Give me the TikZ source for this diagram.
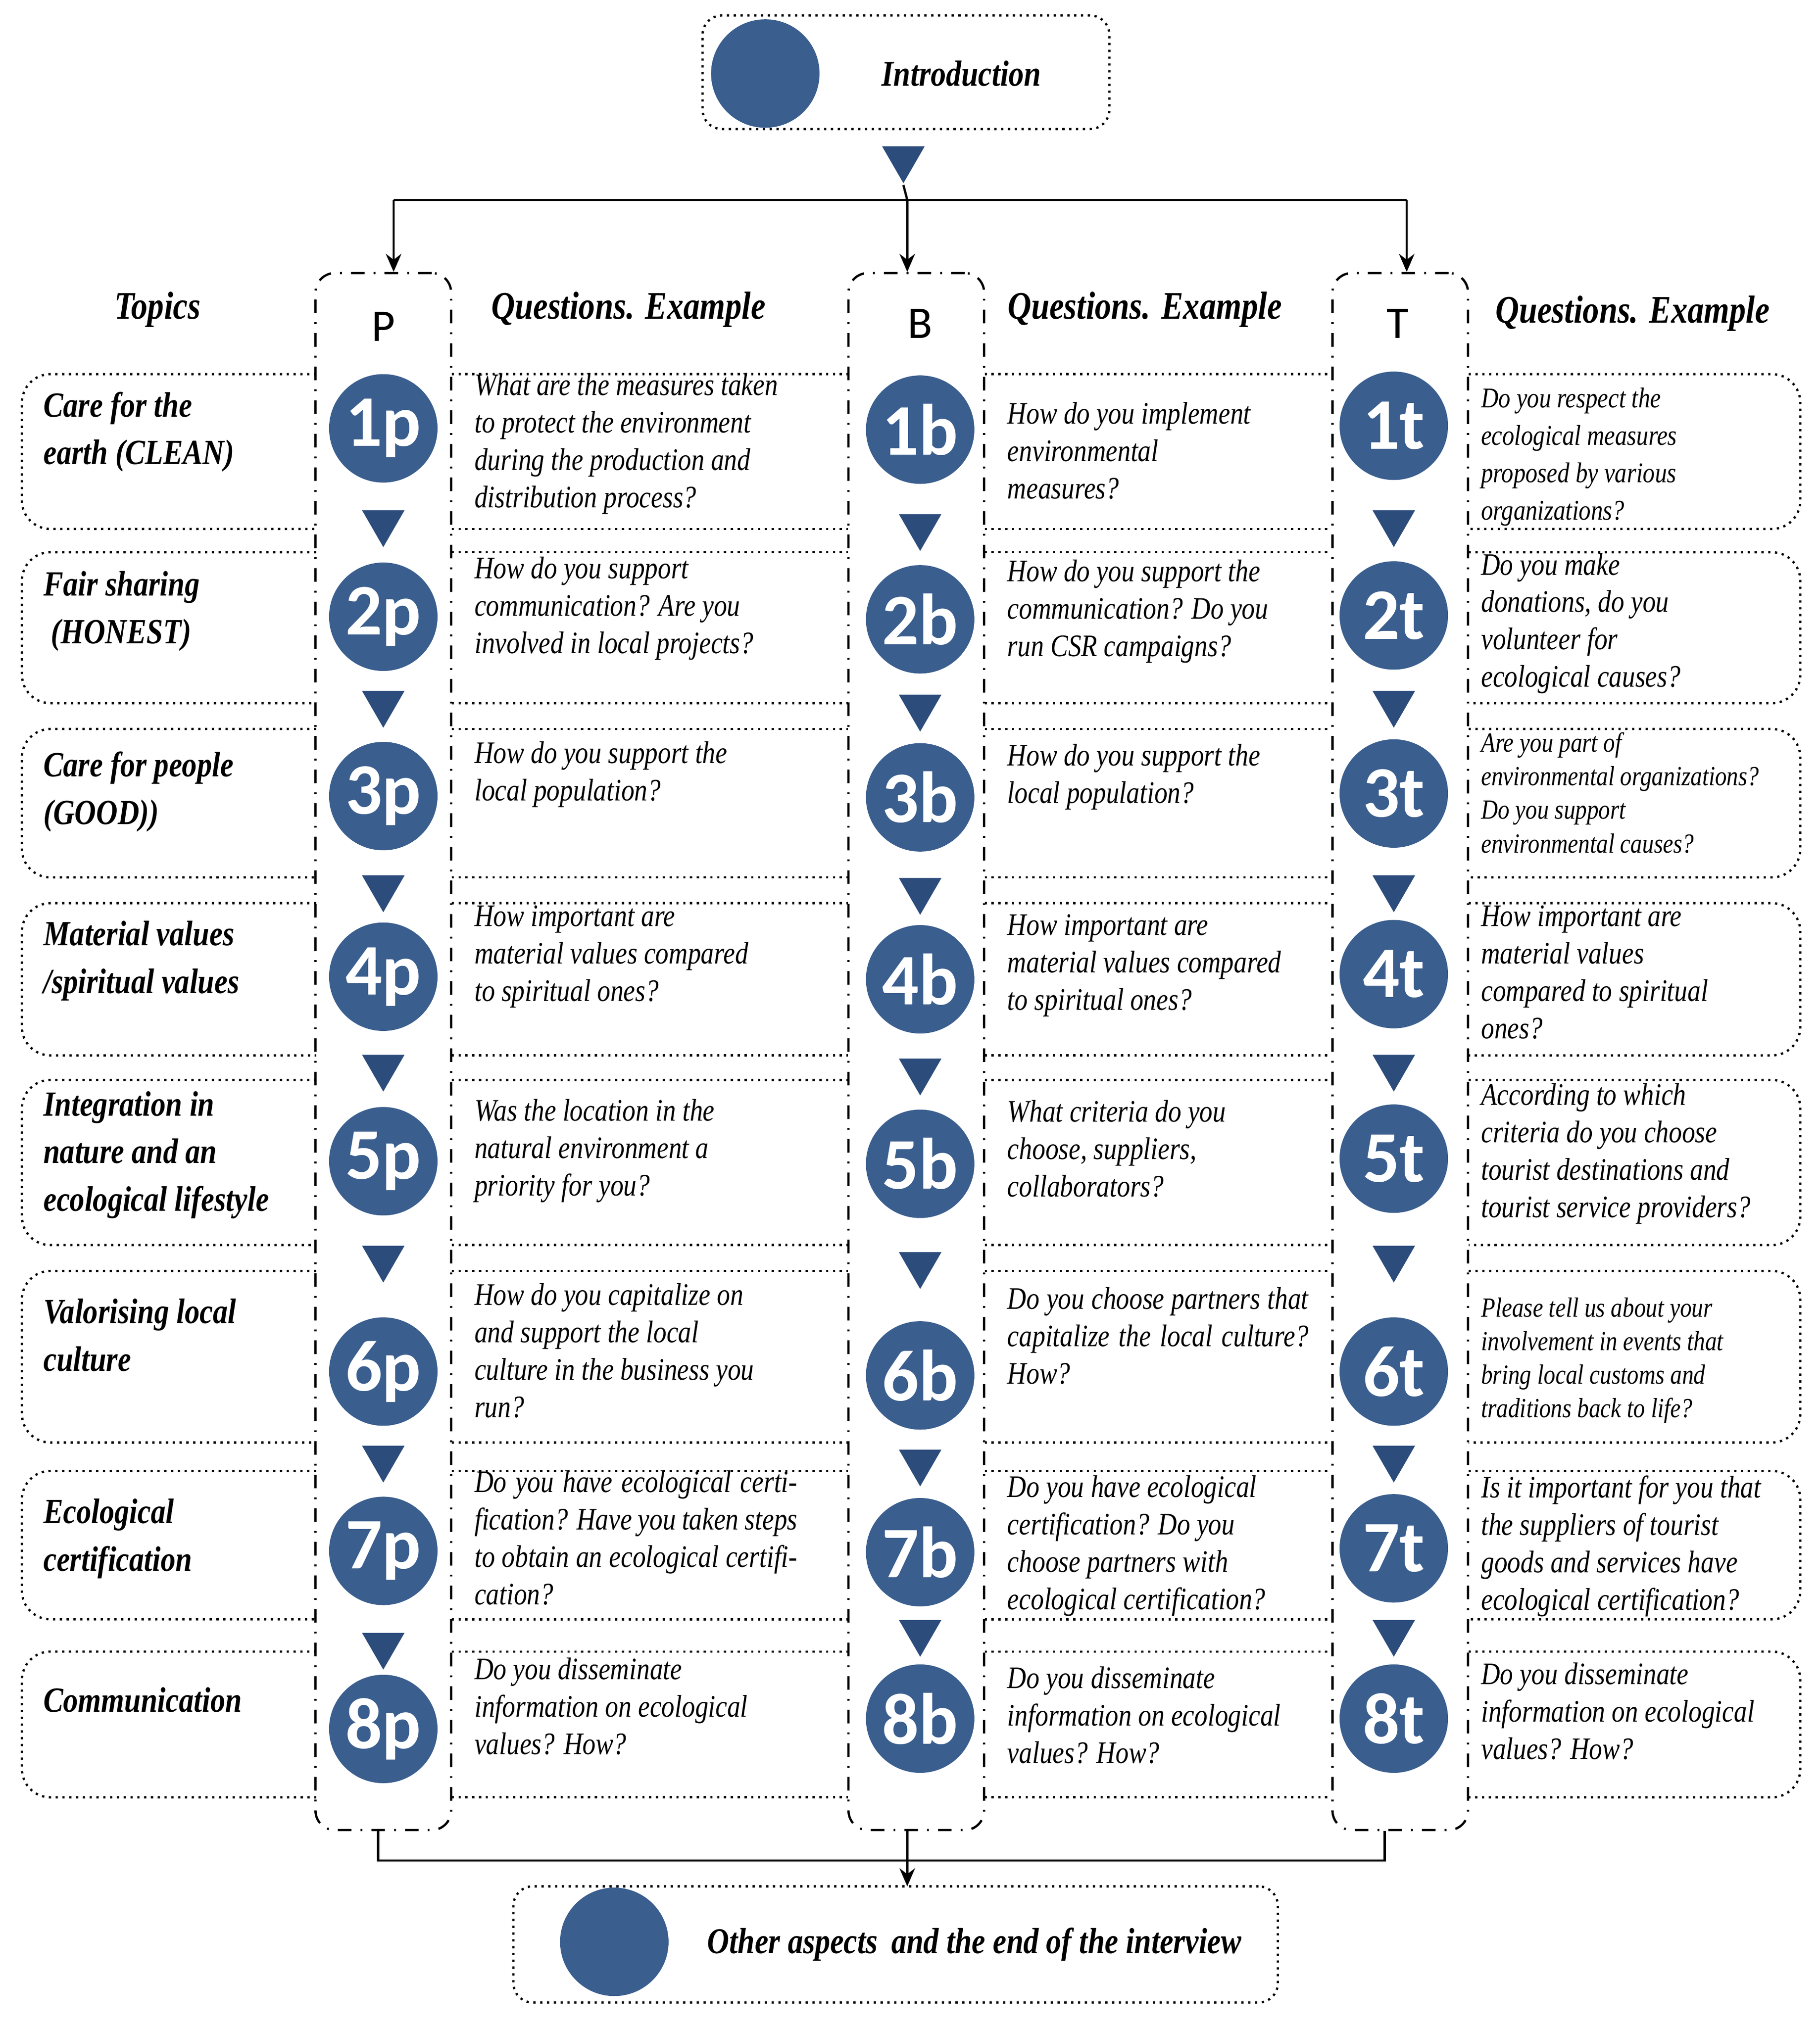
\documentclass[tikz,border=0pt]{standalone}
\usepackage{fontspec}
\setmainfont{Liberation Serif}
\newfontfamily\cserif{Liberation Serif}[FakeStretch=0.84]
\newfontfamily\lsans{Carlito}
\usetikzlibrary{shapes.geometric,arrows.meta}
\definecolor{cblue}{HTML}{3A5E8E}
\definecolor{tblue}{HTML}{2C4C7C}
\begin{document}
\begin{tikzpicture}[x=0.01cm,y=-0.01cm,
  circ/.style={circle,fill=cblue,minimum size=0.84cm,inner sep=0pt,text=white,font=\lsans\bfseries\fontsize{16}{16}\selectfont},
  tri/.style={regular polygon,regular polygon sides=3,shape border rotate=180,fill=tblue,minimum size=0.38cm,inner sep=0pt},
  col/.style={draw,dash dot,rounded corners=0.15cm,minimum width=1.05cm,minimum height=12.06cm,line width=0.5pt},
  topic/.style={anchor=north west,align=left,inner sep=0pt,font=\cserif\bfseries\itshape\fontsize{7.8}{10.5}\selectfont},
  qtext/.style={anchor=north west,align=left,inner sep=0pt,font=\cserif\itshape\fontsize{6.9}{8.25}\selectfont},
  head/.style={font=\cserif\bfseries\itshape\fontsize{8}{9}\selectfont},
  letter/.style={font=\lsans\fontsize{10}{10}\selectfont},
  bx/.style={densely dotted,line width=0.5pt},
  arr/.style={-{Stealth[length=0.14cm,width=0.12cm]},line width=0.5pt}]
\useasboundingbox (0,0) rectangle (1410,1571);
% intro
\node[draw,bx,rounded corners=0.15cm,minimum width=3.15cm,minimum height=0.88cm] (intro) at (702,56) {};
\node[circ] (ci) at (593,57) {};
\node[head] (tintro) at (745,57) {Introduction};
\node[tri] (t0) at (700,123) {};
\coordinate (split) at (703,155);
% columns
\node[col] (colP) at (297,815) {};
\node[col] (colB) at (710,815) {};
\node[col] (colT) at (1085,815) {};
\draw[line width=0.5pt] (t0.south) -- (split);
\coordinate (sl) at (305,155); \coordinate (sr) at (1090,155);
\draw[line width=0.5pt] (sl) -- (sr);
\draw[arr] (sl) -- (sl|-colP.north);
\draw[arr] (split) -- (split|-colB.north);
\draw[arr] (sr) -- (sr|-colT.north);
% headers
\node[head,font=\cserif\bfseries\itshape\fontsize{8.6}{9}\selectfont] (hT) at (122,240) {Topics};
\node[letter] (hP) at (297,253) {P};
\node[head,font=\cserif\bfseries\itshape\fontsize{8.6}{9}\selectfont] (hq1) at (487,240) {Questions. Example};
\node[letter] (hB) at (713,251) {B};
\node[head,font=\cserif\bfseries\itshape\fontsize{8.6}{9}\selectfont] (hq2) at (887,240) {Questions. Example};
\node[letter] (hTT) at (1083,251) {T};
\node[head,font=\cserif\bfseries\itshape\fontsize{8.6}{9}\selectfont] (hq3) at (1265,243) {Questions. Example};
% row boxes
\foreach \a/\b in {290/410,428/545,565/680,700/818,837/965,985/1118,1140/1255,1280/1393}{
  \draw[bx,rounded corners=0.22cm] (245,\a) -- (17,\a) -- (17,\b) -- (245,\b);
  \draw[bx] (350,\a) -- (657,\a) (350,\b) -- (657,\b);
  \draw[bx] (763,\a) -- (1032,\a) (763,\b) -- (1032,\b);
  \draw[bx,rounded corners=0.22cm] (1138,\a) -- (1395,\a) -- (1395,\b) -- (1138,\b);
}
% circles
\foreach \n/\yp/\yb/\yt in {1/332/333/330,2/478/480/477,3/617/618/615,4/757/759/755,5/900/902/898,6/1063/1066/1063,7/1202/1203/1200,8/1340/1332/1332}{
  \node[circ] (c\n p) at (297,\yp) {\n p};
  \node[circ] (c\n b) at (713,\yb) {\n b};
  \node[circ] (c\n t) at (1080,\yt) {\n t};
}
% triangles
\foreach \n/\yp/\yb/\yt in {1/405/408/405,2/545/548/545,3/688/690/688,4/827/830/827,5/975/980/975,6/1130/1133/1130,7/1275/1265/1265}{
  \node[tri] (tp\n) at (297,\yp) {};
  \node[tri] (tb\n) at (713,\yb) {};
  \node[tri] (tt\n) at (1080,\yt) {};
}
% topics
\node[topic] (k1) at (33,303) {Care for the\\earth (CLEAN)};
\node[topic] (k2) at (33,442) {Fair sharing\\\ (HONEST)};
\node[topic] (k3) at (33,582) {Care for people\\(GOOD))};
\node[topic] (k4) at (33,713) {Material values\\/spiritual values};
\node[topic] (k5) at (33,845) {Integration in\\nature and an\\ecological lifestyle};
\node[topic] (k6) at (33,1006) {Valorising local\\culture};
\node[topic] (k7) at (33,1161) {Ecological\\certification};
\node[topic] (k8) at (33,1307) {Communication};
% P questions
\node[qtext] (qp1) at (367,289) {What are the measures taken\\to protect the environment\\during the production and\\distribution process?};
\node[qtext] (qp2) at (367,431) {How do you support\\communication? Are you\\involved in local projects?};
\node[qtext] (qp3) at (367,574) {How do you support the\\local population?};
\node[qtext] (qp4) at (367,701) {How important are\\material values compared\\to spiritual ones?};
\node[qtext] (qp5) at (367,851) {Was the location in the\\natural environment a\\priority for you?};
\node[qtext] (qp6) at (367,994) {How do you capitalize on\\and support the local\\culture in the business you\\run?};
\node[qtext,align=justify,text width=2.5cm] (qp7) at (367,1139) {Do you have ecological certification? Have you taken steps to obtain an ecological certification?};
\node[qtext] (qp8) at (367,1284) {Do you disseminate\\information on ecological\\values? How?};
% B questions
\node[qtext] (qb1) at (780,311) {How do you implement\\environmental\\measures?};
\node[qtext] (qb2) at (780,433) {How do you support the\\communication? Do you\\run CSR campaigns?};
\node[qtext] (qb3) at (780,576) {How do you support the\\local population?};
\node[qtext] (qb4) at (780,708) {How important are\\material values compared\\to spiritual ones?};
\node[qtext] (qb5) at (780,852) {What criteria do you\\choose, suppliers,\\collaborators?};
\node[qtext,align=justify,text width=2.33cm] (qb6) at (780,997) {Do you choose partners that capitalize the local culture? How?};
\node[qtext] (qb7) at (780,1143) {Do you have ecological\\certification? Do you\\choose partners with\\ecological certification?};
\node[qtext] (qb8) at (780,1291) {Do you disseminate\\information on ecological\\values? How?};
% T questions
\node[qtext,font=\cserif\itshape\fontsize{6.3}{8.25}\selectfont] (qt1) at (1147,300) {Do you respect the\\ecological measures\\proposed by various\\organizations?};
\node[qtext] (qt2) at (1147,428) {Do you make\\donations, do you\\volunteer for\\ecological causes?};
\node[qtext,font=\cserif\itshape\fontsize{6.1}{7.4}\selectfont] (qt3) at (1147,567) {Are you part of\\environmental organizations?\\Do you support\\environmental causes?};
\node[qtext] (qt4) at (1147,701) {How important are\\material values\\compared to spiritual\\ones?};
\node[qtext] (qt5) at (1147,839) {According to which\\criteria do you choose\\tourist destinations and\\tourist service providers?};
\node[qtext,font=\cserif\itshape\fontsize{6.1}{7.4}\selectfont] (qt6) at (1147,1005) {Please tell us about your\\involvement in events that\\bring local customs and\\traditions back to life?};
\node[qtext] (qt7) at (1147,1143) {Is it important for you that\\the suppliers of tourist\\goods and services have\\ecological certification?};
\node[qtext] (qt8) at (1147,1288) {Do you disseminate\\information on ecological\\values? How?};
% bottom
\node[draw,bx,rounded corners=0.15cm,minimum width=5.92cm,minimum height=0.9cm] (end) at (694,1507) {};
\node[circ] (ce) at (476,1505) {};
\node[head] (tend) at (755,1507) {Other aspects\, and the end of the interview};
\coordinate (bl) at (293,1442); \coordinate (br) at (1073,1442);
\draw[line width=0.5pt] (bl|-colP.south) -- (bl) -- (br) -- (br|-colT.south);
\draw[arr] (703,1418) -- (703,1462);
\end{tikzpicture}
\end{document}
